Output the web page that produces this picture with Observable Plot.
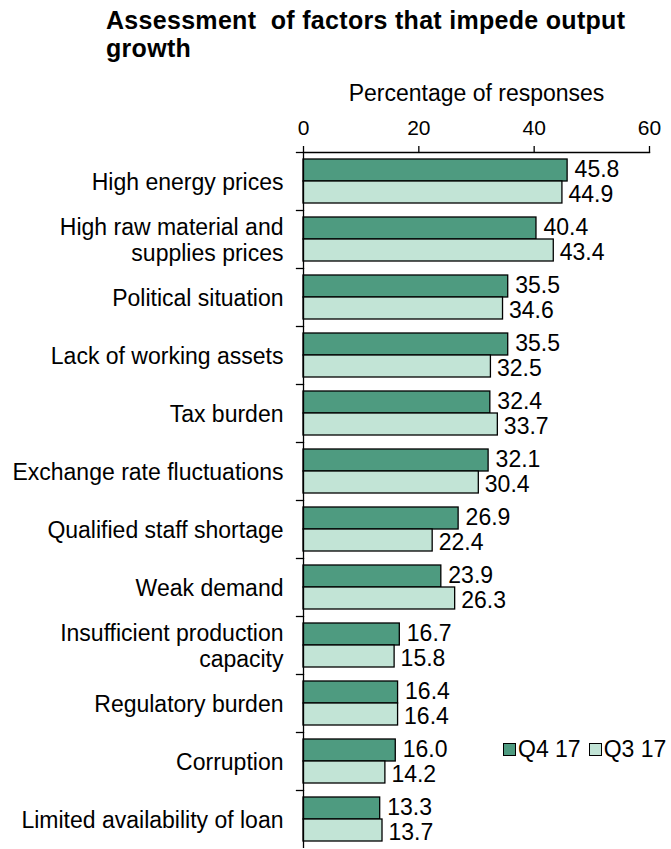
<!DOCTYPE html>
<html>
<head>
<meta charset="utf-8">
<script src="https://cdn.jsdelivr.net/npm/d3@7"></script>
<script src="https://cdn.jsdelivr.net/npm/@observablehq/plot@0.6"></script>
<style>
  html, body { margin: 0; padding: 0; background: #fff; }
  #wrap { position: relative; width: 671px; height: 849px; overflow: hidden; font-family: "Liberation Sans", Arial, sans-serif; color: #000; }
  #title { position: absolute; left: 106px; top: 6px; font-weight: bold; font-size: 25px; line-height: 28px; letter-spacing: 0.3px; white-space: nowrap; }
  #chart { position: absolute; left: 0; top: 0; }
  #legend { position: absolute; left: 503px; top: 736px; font-size: 23px; display: flex; align-items: center; white-space: nowrap; }
  #legend .sw { display: inline-block; width: 11px; height: 11px; border: 1.3px solid #000; margin-right: 2px; }
  #legend .item { display: flex; align-items: center; margin-right: 8px; }
</style>
</head>
<body>
<div id="wrap">
  <div id="chart"></div>
  <div id="title">Assessment&nbsp; of factors that impede output<br>growth</div>
  <div id="legend"></div>
</div>
<script>
const categories = [
  "High energy prices",
  "High raw material and\nsupplies prices",
  "Political situation",
  "Lack of working assets",
  "Tax burden",
  "Exchange rate fluctuations",
  "Qualified staff shortage",
  "Weak demand",
  "Insufficient production\ncapacity",
  "Regulatory burden",
  "Corruption",
  "Limited availability of loan"
];
const seriesNames = ["Q4 17", "Q3 17"];
const q4_17 = [45.8, 40.4, 35.5, 35.5, 32.4, 32.1, 26.9, 23.9, 16.7, 16.4, 16.0, 13.3];
const q3_17 = [44.9, 43.4, 34.6, 32.5, 33.7, 30.4, 22.4, 26.3, 15.8, 16.4, 14.2, 13.7];
const xTicks = [0, 20, 40, 60];
const colors = ["#4e9b80", "#c2e4d6"];

const data = categories.flatMap((c, i) => [
  {cat: c, series: seriesNames[0], value: q4_17[i]},
  {cat: c, series: seriesNames[1], value: q3_17[i]}
]);

const W = 671, H = 849, mL = 303, mR = 22, mT = 150;
const plotW = W - mL - mR;

const chart = Plot.plot({
  width: W,
  height: H,
  marginTop: mT,
  marginLeft: mL,
  marginRight: mR,
  marginBottom: 0,
  style: {fontFamily: "'Liberation Sans', Arial, sans-serif", fontSize: "21px", color: "#000", background: "transparent", overflow: "visible"},
  x: {domain: [0, 60], axis: null},
  y: {domain: seriesNames, paddingInner: 0, paddingOuter: 0.29, axis: null},
  fy: {domain: categories, padding: 0, axis: null},
  color: {domain: seriesNames, range: colors},
  marks: [
    Plot.axisX({anchor: "top", ticks: xTicks, tickSize: 7, tickPadding: 11, label: null, fontSize: 21, stroke: "#000", strokeWidth: 1.3}),
    Plot.axisX({anchor: "top", ticks: [], tickSize: 0, label: "Percentage of responses", labelAnchor: "center", labelArrow: "none", labelOffset: 68, fontSize: 23}),
    Plot.frame({facet: "super", anchor: "top", stroke: "#000", strokeWidth: 1.3}),
    Plot.barX(data, {x: "value", y: "series", fy: "cat", fill: "series", stroke: "#000", strokeWidth: 1.3}),
    Plot.ruleX([0], {stroke: "#000", strokeWidth: 1.3}),
    Plot.frame({anchor: "top", insetLeft: -7, insetRight: plotW, stroke: "#000", strokeWidth: 1.3}),
    Plot.text(data.filter(d => d.series === seriesNames[0]), {x: "value", y: "series", fy: "cat", text: d => d.value.toFixed(1), textAnchor: "start", dx: 7, dy: -1, fontSize: 23}),
    Plot.text(data.filter(d => d.series === seriesNames[1]), {x: "value", y: "series", fy: "cat", text: d => d.value.toFixed(1), textAnchor: "start", dx: 6, dy: 2, fontSize: 23}),
    Plot.text(categories, {fy: d => d, text: d => d, frameAnchor: "left", textAnchor: "end", dx: -20, dy: 0, fontSize: 23, lineHeight: 1.14})
  ]
});
document.getElementById("chart").appendChild(chart);

const legend = document.getElementById("legend");
seriesNames.forEach((s, i) => {
  const item = document.createElement("span");
  item.className = "item";
  const sw = document.createElement("span");
  sw.className = "sw";
  sw.style.background = colors[i];
  item.appendChild(sw);
  item.appendChild(document.createTextNode(s));
  legend.appendChild(item);
});
</script>
</body>
</html>
